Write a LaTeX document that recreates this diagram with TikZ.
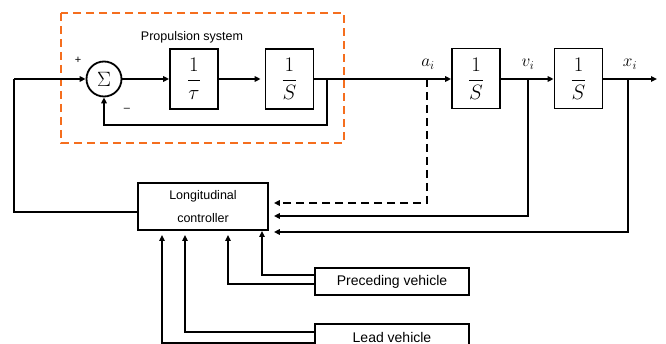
\documentclass[tikz,border=0pt]{standalone}
\usepackage{fontspec}
\setmainfont{Liberation Sans}
\usetikzlibrary{arrows.meta,calc}
\definecolor{prop}{RGB}{245,110,30}
\tikzset{
  blk/.style={draw,line width=1.8pt,minimum width=48pt,minimum height=60pt,inner sep=0pt,font=\fontsize{21}{24}\selectfont},
  txtbox/.style={draw,line width=1.8pt,inner sep=0pt,align=center},
  wire/.style={line width=1.8pt},
  arr/.style={line width=1.8pt,-{Triangle[length=6pt,width=5.5pt]}},
  lbl/.style={font=\fontsize{17}{20}\selectfont},
}
\begin{document}
\begin{tikzpicture}[x=1pt,y=-1pt]
\useasboundingbox (0,0) rectangle (666,344);
\clip (0,0) rectangle (666,344);
% propulsion frame
\draw[prop,line width=2.3pt,dash pattern=on 8pt off 5pt] (61,13) rectangle (344,143);
\node[font=\fontsize{12.5}{14}\selectfont] (ptitle) at (192,37) {Propulsion system};
% blocks
\node[draw,circle,line width=1.8pt,minimum size=35pt,inner sep=0pt,font=\fontsize{22}{24}\selectfont] (sum) at (104,79) {$\Sigma$};
\node[blk] (tau) at (194,79) {$\displaystyle\frac{1}{\tau}$};
\node[blk] (s1) at (289.5,79) {$\displaystyle\frac{1}{S}$};
\node[blk] (s2) at (476,78.5) {$\displaystyle\frac{1}{S}$};
\node[blk] (s3) at (578.5,78.5) {$\displaystyle\frac{1}{S}$};
\node[txtbox,minimum width=130pt,minimum height=47pt,font=\fontsize{12.5}{23}\selectfont] (ctrl) at (203,206.5) {Longitudinal\\controller};
\node[txtbox,minimum width=154pt,minimum height=27pt,font=\fontsize{14}{16}\selectfont] (pre) at (392,281.5) {Preceding vehicle};
\node[txtbox,minimum width=154pt,minimum height=27pt,font=\fontsize{14}{16}\selectfont] (lead) at (392,337.5) {Lead vehicle};
% signs and labels
\node[font=\fontsize{11}{12}\selectfont] (plus) at (78,60) {+};
\node[font=\fontsize{11}{12}\selectfont] (minus) at (127,110) {--};
\node[lbl] (la) at (428,64) {$a_i$};
\node[lbl] (lv) at (528,64) {$v_i$};
\node[lbl] (lx) at (630,64) {$x_i$};
% coordinates
\coordinate (in0) at (14,212);
\coordinate (fb) at (327,79);
\coordinate (fbd) at (327,125);
\coordinate (ba) at (427,79);
\coordinate (bad) at (427,203);
\coordinate (bv) at (528,79);
\coordinate (bvd) at (528,216);
\coordinate (bx) at (628,79);
\coordinate (bxd) at (628,232);
\coordinate (out) at (657,79);
% forward path
\draw[wire] (ctrl.west |- in0) -- (in0) -- (14,79);
\draw[arr] (14,79) -- (sum.west);
\draw[arr] (sum.east) -- (tau.west);
\draw[arr,shorten >=4pt] (tau.east) -- (s1.west);
\draw[wire] (s1.east) -- (fb);
\draw[line width=2.6pt] (fb) -- (ba);
\draw[arr] (ba) -- (s2.west |- ba);
\draw[arr] (s2.east |- bv) -- (s3.west |- bv);
\draw[arr] (s3.east |- bx) -- (out);
% inner feedback
\draw[arr] (fb) -- (fbd) -| (sum.south);
% feedback to controller
\draw[line width=1.8pt,dash pattern=on 8pt off 5pt,-{Triangle[length=6pt,width=5.5pt]},shorten >=5pt] (ba) -- (bad) -- (ctrl.east |- bad);
\draw[arr,shorten >=5pt] (bv) -- (bvd) -- (ctrl.east |- bvd);
\draw[arr,shorten >=5pt] (bx) -- (bxd) -- (ctrl.east |- bxd);
% inputs from vehicles
\draw[arr,shorten >=1pt] (pre.west |- 0,275) -| (262,230);
\draw[arr,shorten >=5pt] (pre.west |- 0,284) -| (228,230);
\draw[arr,shorten >=5pt] (lead.west |- 0,332) -| (185,230);
\draw[arr,shorten >=5pt] (lead.west |- 0,343) -| (162,230);
\end{tikzpicture}
\end{document}
